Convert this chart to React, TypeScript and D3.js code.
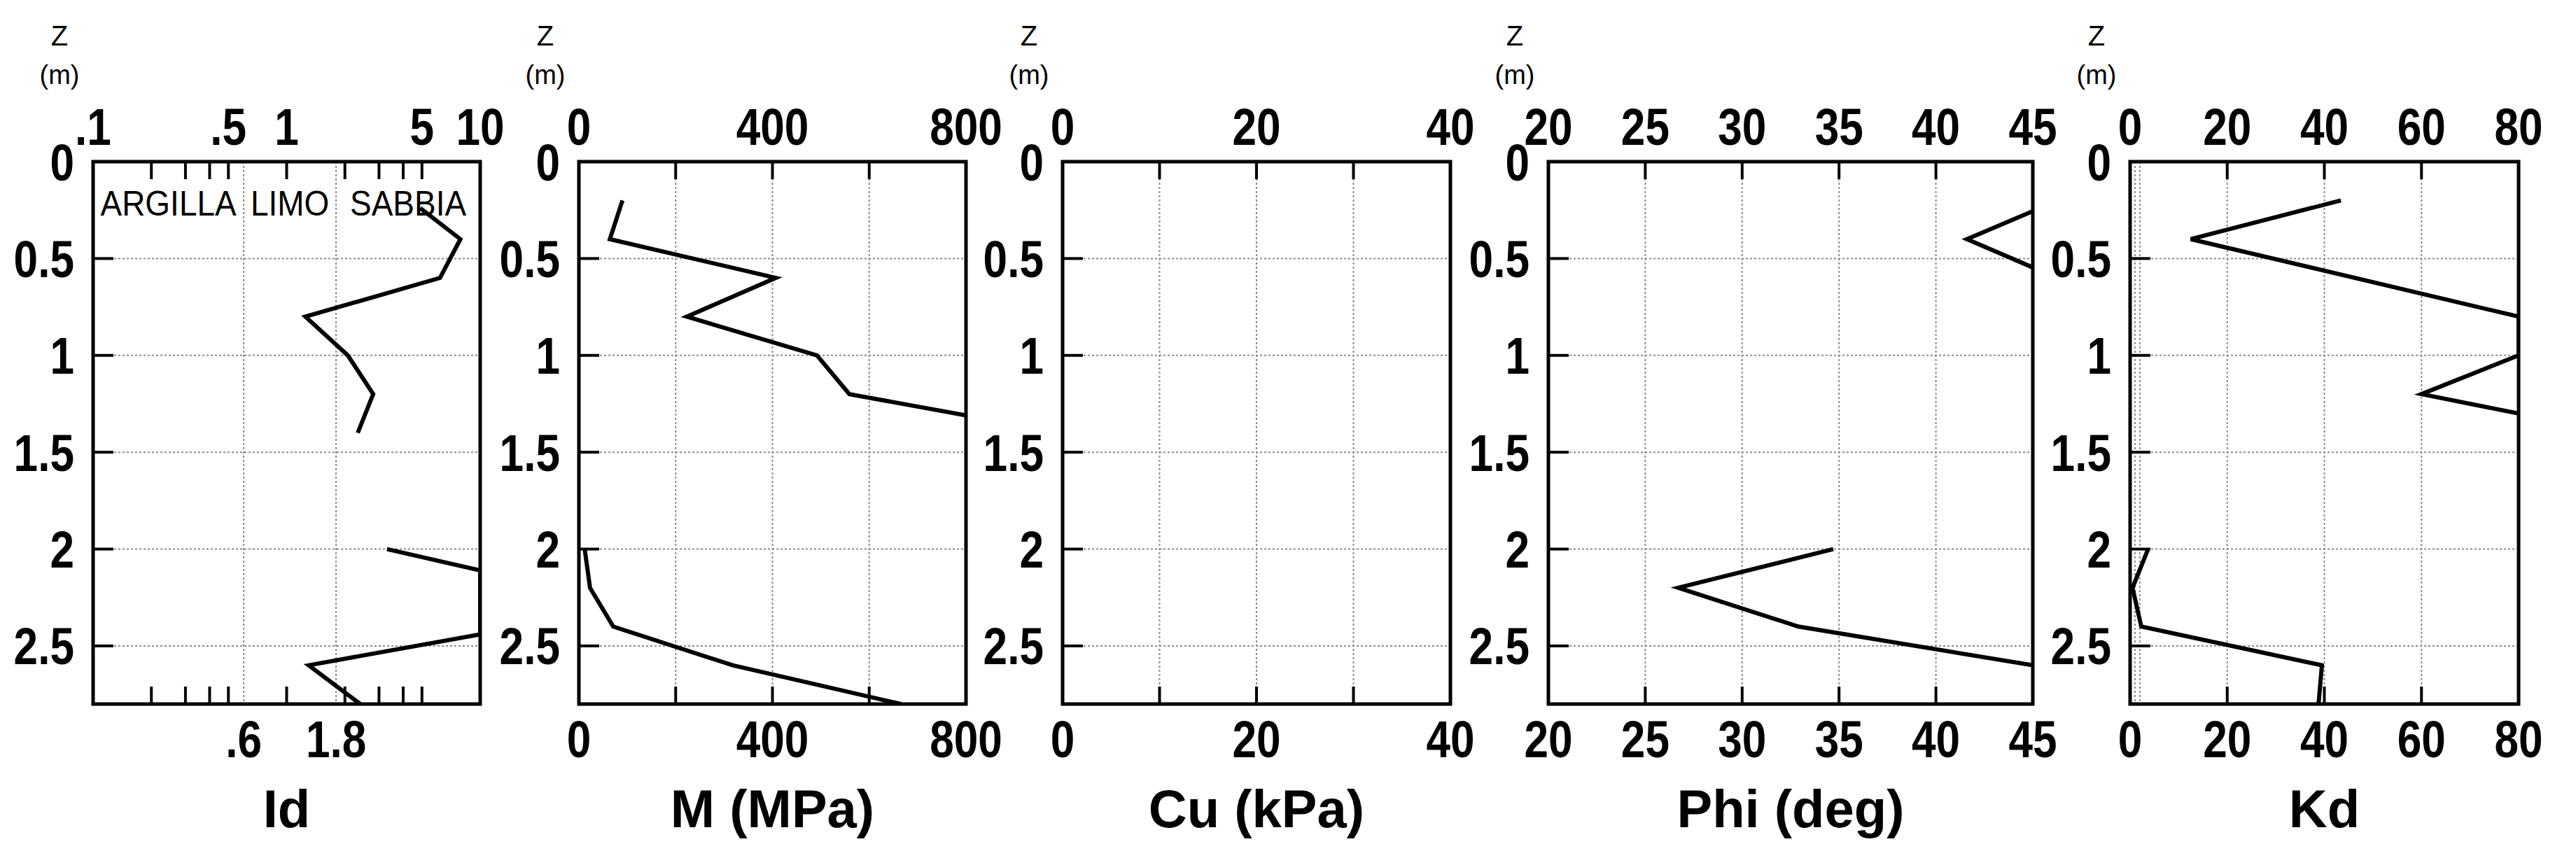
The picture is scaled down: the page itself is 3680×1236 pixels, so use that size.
import React from 'react';
import * as d3 from 'd3';

const W = 3680;
const H = 1236;
const FONT = '"Liberation Sans", Arial, Helvetica, sans-serif';
const NARROW = 0.84;

// depth axis (m)
const depthMax = 2.8;
const depthTicks = [0.5, 1, 1.5, 2, 2.5];
const depthLabelVals = [0, 0.5, 1, 1.5, 2, 2.5];
const depthLabels = ['0', '0.5', '1', '1.5', '2', '2.5'];

// Id (material index, log scale)
const idTopVals = [0.1, 0.5, 1, 5, 10];
const idTopLabels = ['.1', '.5', '1', '5', '10'];
const idMinorTicks = [0.2, 0.3, 0.4, 0.5, 1, 2, 3, 4, 5];
const idLimits = [0.6, 1.8];
const idLimitLabels = ['.6', '1.8'];
const soilNames = ['ARGILLA', 'LIMO', 'SABBIA'];
const idZ1 = [0.24, 0.4, 0.6, 0.8, 1.0, 1.2, 1.4];
const idV1 = [4.9, 7.9, 6.2, 1.25, 2.07, 2.8, 2.33];
const idZ2 = [2.0, 2.11, 2.44, 2.6, 2.8];
const idV2 = [3.3, 10, 10, 1.3, 2.4];

// M (MPa)
const mLabels = [0, 400, 800];
const mTicks = [200, 400, 600];
const mZ1 = [0.2, 0.4, 0.6, 0.8, 1.0, 1.2, 1.31];
const mV1 = [90, 64, 407, 223, 492, 559, 800];
const mZ2 = [2.0, 2.2, 2.4, 2.6, 2.8];
const mV2 = [12, 23, 71, 318, 666];

// Cu (kPa) - no readings
const cuLabels = [0, 20, 40];
const cuTicks = [10, 20, 30];

// Phi (deg)
const phiLabels = [20, 25, 30, 35, 40, 45];
const phiTicks = [25, 30, 35, 40];
const phiZ1 = [0.256, 0.4, 0.546];
const phiV1 = [45, 41.6, 45];
const phiZ2 = [2.0, 2.2, 2.4, 2.6];
const phiV2 = [34.7, 26.7, 32.9, 45];

// Kd
const kdLabels = [0, 20, 40, 60, 80];
const kdTicks = [20, 40, 60];
const kdGrid = [1, 2, 20, 40, 60];
const kdZ1 = [0.2, 0.4, 0.8, 1.0, 1.2, 1.3];
const kdV1 = [43.4, 12.5, 80, 80, 60, 80];
const kdZ2 = [2.0, 2.2, 2.4, 2.6, 2.8];
const kdV2 = [3.7, 0.5, 2.3, 39.5, 38.8];

const TOP = 231;
const BOTTOM = 1006;

const zip = (z: number[], v: number[]) => z.map((d, i) => [d, v[i]] as [number, number]);

const panels = [
  {
    key: 'id', title: 'Id', x0: 133, x1: 686, log: true, domain: [0.1, 10],
    topVals: idTopVals, topLabels: idTopLabels, botVals: idLimits, botLabels: idLimitLabels,
    ticks: idMinorTicks, grid: idLimits, series: [zip(idZ1, idV1), zip(idZ2, idV2)],
  },
  {
    key: 'm', title: 'M (MPa)', x0: 827, x1: 1380, log: false, domain: [0, 800],
    topVals: mLabels, topLabels: mLabels.map(String), botVals: mLabels, botLabels: mLabels.map(String),
    ticks: mTicks, grid: mTicks, series: [zip(mZ1, mV1), zip(mZ2, mV2)],
  },
  {
    key: 'cu', title: 'Cu (kPa)', x0: 1518, x1: 2072, log: false, domain: [0, 40],
    topVals: cuLabels, topLabels: cuLabels.map(String), botVals: cuLabels, botLabels: cuLabels.map(String),
    ticks: cuTicks, grid: cuTicks, series: [],
  },
  {
    key: 'phi', title: 'Phi (deg)', x0: 2212, x1: 2904, log: false, domain: [20, 45],
    topVals: phiLabels, topLabels: phiLabels.map(String), botVals: phiLabels, botLabels: phiLabels.map(String),
    ticks: phiTicks, grid: phiTicks, series: [zip(phiZ1, phiV1), zip(phiZ2, phiV2)],
  },
  {
    key: 'kd', title: 'Kd', x0: 3043, x1: 3598, log: false, domain: [0, 80],
    topVals: kdLabels, topLabels: kdLabels.map(String), botVals: kdLabels, botLabels: kdLabels.map(String),
    ticks: kdTicks, grid: kdGrid, series: [zip(kdZ1, kdV1), zip(kdZ2, kdV2)],
  },
];

const y = d3.scaleLinear().domain([0, depthMax]).range([TOP, BOTTOM]);

function Num({ x, yy, anchor = 'middle', children }: any) {
  return (
    <text transform={`translate(${x},${yy}) scale(${NARROW},1)`} textAnchor={anchor}
      fontSize={74} fontWeight="bold" fontFamily={FONT} fill="#000">{children}</text>
  );
}

function Panel({ p }: any) {
  const x = p.log
    ? d3.scaleLog().domain(p.domain).range([p.x0, p.x1])
    : d3.scaleLinear().domain(p.domain).range([p.x0, p.x1]);
  const line = d3.line<[number, number]>().x(d => x(d[1])).y(d => y(d[0]));
  const grid = { stroke: '#8a8a8a', strokeWidth: 2, strokeDasharray: '3,3' };
  const bounds = [p.domain[0], ...idLimits, p.domain[1]];
  return (
    <g>
      <defs>
        <clipPath id={`clip-${p.key}`}>
          <rect x={p.x0} y={TOP} width={p.x1 - p.x0} height={BOTTOM - TOP} />
        </clipPath>
      </defs>
      {/* grid */}
      {depthTicks.map(t => (
        <line key={`h${t}`} x1={p.x0} x2={p.x1} y1={y(t)} y2={y(t)} {...grid} />
      ))}
      {p.grid.map((g: number) => (
        <line key={`v${g}`} x1={x(g)} x2={x(g)} y1={TOP} y2={BOTTOM} {...grid} />
      ))}
      {/* soil classes for Id */}
      {p.key === 'id' && soilNames.map((name, i) => {
        const cx = (x(bounds[i]) + x(bounds[i + 1])) / 2;
        return (
          <text key={name} transform={`translate(${cx},308) scale(0.92,1)`} textAnchor="middle"
            fontSize={50} fontFamily={FONT} fill="#000">{name}</text>
        );
      })}
      {/* data */}
      <g clipPath={`url(#clip-${p.key})`}>
        {p.series.map((s: [number, number][], i: number) => (
          <path key={i} d={line(s) || ''} fill="none" stroke="#000" strokeWidth={6} strokeLinejoin="miter" />
        ))}
      </g>
      {/* frame */}
      <rect x={p.x0} y={TOP} width={p.x1 - p.x0} height={BOTTOM - TOP} fill="none" stroke="#000" strokeWidth={5} />
      {p.ticks.map((t: number) => (
        <g key={`t${t}`}>
          <line x1={x(t)} x2={x(t)} y1={TOP} y2={TOP + 25} stroke="#000" strokeWidth={4} />
          <line x1={x(t)} x2={x(t)} y1={BOTTOM} y2={BOTTOM - 25} stroke="#000" strokeWidth={4} />
        </g>
      ))}
      {depthTicks.map(t => (
        <line key={`yt${t}`} x1={p.x0} x2={p.x0 + 29} y1={y(t)} y2={y(t)} stroke="#000" strokeWidth={4} />
      ))}
      {/* labels */}
      {p.topVals.map((v: number, i: number) => (
        <Num key={`tl${i}`} x={x(v)} yy={207}>{p.topLabels[i]}</Num>
      ))}
      {p.botVals.map((v: number, i: number) => (
        <Num key={`bl${i}`} x={x(v)} yy={1082}>{p.botLabels[i]}</Num>
      ))}
      {depthLabelVals.map((v, i) => (
        <Num key={`yl${i}`} x={p.x0 - 27} yy={y(v) + 26.5} anchor="end">{depthLabels[i]}</Num>
      ))}
      <text x={(p.x0 + p.x1) / 2} y={1182} textAnchor="middle" fontSize={76} fontWeight="bold"
        fontFamily={FONT} fill="#000">{p.title}</text>
      <text x={p.x0 - 48} y={65} textAnchor="middle" fontSize={40} fontFamily={FONT} fill="#000">Z</text>
      <text x={p.x0 - 48} y={120} textAnchor="middle" fontSize={38} fontFamily={FONT} fill="#000">(m)</text>
    </g>
  );
}

export default function App() {
  return (
    <svg width={W} height={H} viewBox={`0 0 ${W} ${H}`}
      style={{ position: 'absolute', left: 0, top: 0, background: '#fff' }}>
      <rect width={W} height={H} fill="#fff" />
      {panels.map(p => <Panel key={p.key} p={p} />)}
    </svg>
  );
}
